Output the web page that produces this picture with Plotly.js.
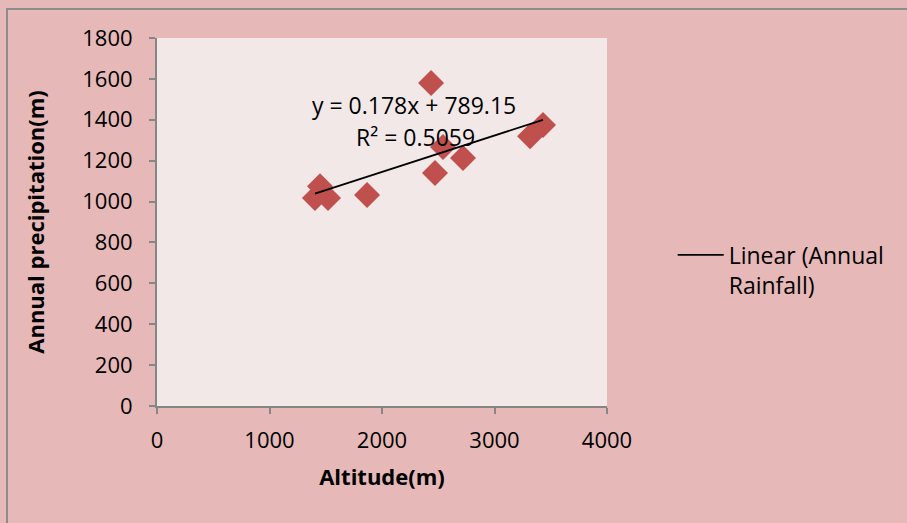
<!DOCTYPE html>
<html>
<head>
<meta charset="utf-8">
<script src="https://cdn.plot.ly/plotly-3.0.1.min.js"></script>
<style>
  html, body { margin: 0; padding: 0; background: #e6b8b7; }
  #chart { width: 907px; height: 523px; }
</style>
</head>
<body>
<div id="chart"></div>
<script>
// Station altitude (m) and annual rainfall
const altitude = [1404, 1449, 1520, 1867, 2436, 2471, 2542, 2720, 3316, 3431];
const rainfall = [1018, 1075, 1018, 1032, 1580, 1140, 1267, 1213, 1320, 1375];

// Linear fit reported on the chart
const fitSlope = [0.178];
const fitIntercept = [789.15];
const fitR2 = [0.5059];

const xTicks = [0, 1000, 2000, 3000, 4000];
const yTicks = [0, 200, 400, 600, 800, 1000, 1200, 1400, 1600, 1800];

const xMin = Math.min(...altitude), xMax = Math.max(...altitude);
const fitX = [xMin, xMax];
const fitY = fitX.map(x => fitSlope[0] * x + fitIntercept[0]);

const FONT = '"Open Sans", Lato, sans-serif';

const traces = [
  {
    x: altitude, y: rainfall, type: 'scatter', mode: 'markers',
    name: 'Annual Rainfall', showlegend: false,
    marker: { symbol: 'diamond', size: 20, color: '#c0504d', line: { width: 0 } },
    hoverinfo: 'x+y'
  },
  {
    x: fitX, y: fitY, type: 'scatter', mode: 'lines',
    name: 'Linear (Annual<br>Rainfall)',
    line: { color: '#000000', width: 1.8 }
  }
];

const layout = {
  width: 907, height: 523,
  paper_bgcolor: '#e6b8b7',
  plot_bgcolor: '#f2e8e8',
  margin: { l: 157, r: 300, t: 38, b: 117 },
  font: { family: FONT, size: 22, color: '#000000' },
  xaxis: {
    range: [0, 4000], tickvals: xTicks, ticktext: xTicks.map(String),
    showgrid: false, zeroline: false,
    showline: true, linecolor: '#868686', linewidth: 2,
    ticks: 'outside', ticklen: 6, tickcolor: '#868686', tickwidth: 2,
    ticklabelstandoff: 8,
    title: { text: '<b>Altitude(m)</b>', font: { family: FONT, size: 22 }, standoff: 16 }
  },
  yaxis: {
    range: [0, 1800], tickvals: yTicks, ticktext: yTicks.map(String),
    showgrid: false, zeroline: false,
    showline: true, linecolor: '#868686', linewidth: 2,
    ticks: 'outside', ticklen: 6, tickcolor: '#868686', tickwidth: 2,
    ticklabelstandoff: 12,
    title: { text: '<b>Annual precipitation(m)</b>', font: { family: FONT, size: 22 }, standoff: 32 }
  },
  showlegend: true,
  legend: {
    x: 1.146, y: 0.37, xanchor: 'left', yanchor: 'middle', valign: 'top',
    bgcolor: 'rgba(0,0,0,0)', font: { family: FONT, size: 23 },
    itemwidth: 46
  },
  annotations: [
    {
      xref: 'paper', yref: 'paper', x: 0.572, y: (406 - 105) / 368, xanchor: 'center', yanchor: 'middle',
      text: 'y = ' + fitSlope[0] + 'x + ' + fitIntercept[0].toFixed(2),
      showarrow: false, font: { family: FONT, size: 23, color: '#000000' }
    },
    {
      xref: 'paper', yref: 'paper', x: 0.574, y: (406 - 137) / 368, xanchor: 'center', yanchor: 'middle',
      text: 'R² = ' + fitR2[0],
      showarrow: false, font: { family: FONT, size: 23, color: '#000000' }
    }
  ],
  shapes: [
    {
      type: 'rect', xref: 'paper', yref: 'paper', layer: 'above',
      x0: -150 / 450, x1: 1 + 320 / 450, y0: -140 / 368, y1: 1 + 29 / 368,
      line: { color: '#8c8c8c', width: 2 }, fillcolor: 'rgba(0,0,0,0)'
    }
  ]
};

Plotly.newPlot('chart', traces, layout, { displayModeBar: false, staticPlot: true });
</script>
</body>
</html>
